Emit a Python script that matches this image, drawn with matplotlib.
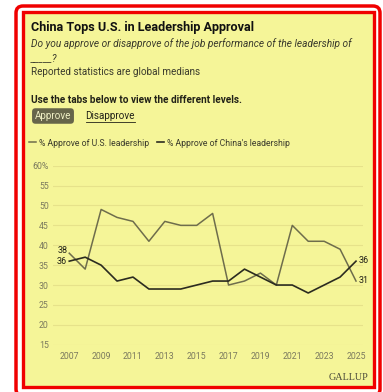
import matplotlib
matplotlib.use("Agg")
import matplotlib.pyplot as plt
from matplotlib.patches import FancyBboxPatch, Rectangle
from matplotlib.lines import Line2D
from matplotlib.transforms import IdentityTransform

# data (global medians, %)
years = list(range(2007, 2026))
us_approve = [38, 34, 49, 47, 46, 41, 46, 45, 45, 48, 30, 31, 33, 30, 45, 41, 41, 39, 31]
china_approve = [36, 37, 35, 31, 32, 29, 29, 29, 30, 31, 31, 34, 32, 30, 30, 28, 30, 32, 36]
xticks = list(range(2007, 2026, 2))
yticks = [15, 20, 25, 30, 35, 40, 45, 50, 55, 60]

W, H = 383, 392
BG = "#f5f598"
RED = "#f00000"
US_C = "#6e6d4c"
CN_C = "#2b2b20"
TXT = "#222218"
GREY = "#7b7a5e"


def fx(px):
    return px / W


def fy(py):
    return 1 - py / H


plt.rcParams["font.family"] = ["Roboto", "DejaVu Sans"]

fig = plt.figure(figsize=(W / 100, H / 100), dpi=100)
fig.patch.set_facecolor("white")

# borders (display pixels, origin bottom-left)
outer = FancyBboxPatch((16, -4), 364, 390, boxstyle="round,pad=0,rounding_size=7",
                       facecolor="none", edgecolor=RED, linewidth=2.5,
                       transform=IdentityTransform(), zorder=-5)
inner = Rectangle((23.3, 392 - 387.3), 350.5, 375.8, facecolor=BG, edgecolor=RED,
                  linewidth=2.4, transform=IdentityTransform(), zorder=-4)
fig.add_artist(outer)
fig.add_artist(inner)

# header text
fig.text(fx(31), fy(27), "China Tops U.S. in Leadership Approval", fontsize=9.1,
         fontweight="bold", color="#111111", va="center", ha="left")
fig.text(fx(31), fy(44), "Do you approve or disapprove of the job performance of the leadership of",
         fontsize=7.3, style="italic", color="#3a3a2c", va="center", ha="left")
fig.text(fx(31), fy(58), "_____?", fontsize=7.3, style="italic", color="#3a3a2c",
         va="center", ha="left")
fig.text(fx(31), fy(72), "Reported statistics are global medians", fontsize=7.1,
         color="#3a3a2c", va="center", ha="left")
fig.text(fx(31), fy(100), "Use the tabs below to view the different levels.", fontsize=7.2,
         fontweight="bold", color=TXT, va="center", ha="left")
fig.text(fx(53), fy(116), "Approve", fontsize=7.1, color="#efefc4", va="center", ha="center",
         bbox=dict(boxstyle="round,pad=0.28,rounding_size=0.35", facecolor="#66654a",
                   edgecolor="none"))
fig.text(fx(85.5), fy(116), "Disapprove", fontsize=7.1, color=TXT, va="center", ha="left")
fig.add_artist(Line2D([fx(85.5), fx(135)], [fy(121.5), fy(121.5)], color=TXT, linewidth=0.6,
                      transform=fig.transFigure))

# chart
x0, x1 = 53, 362.7
y0, y1 = 165.7, 344.7
ax = fig.add_axes([fx(x0), fy(y1), (x1 - x0) / W, (y1 - y0) / H])
ax.patch.set_alpha(0)
ax.plot(years, us_approve, color=US_C, linewidth=1.1, label="% Approve of U.S. leadership")
ax.plot(years, china_approve, color=CN_C, linewidth=1.2, label="% Approve of China's leadership")
ax.set_xlim(2005.98, 2025.42)
ax.set_ylim(15, 60)
ax.set_xticks(xticks)
ax.set_yticks(yticks)
ax.set_yticklabels([str(v) if v != 60 else "60%" for v in yticks])
ax.tick_params(length=0, labelsize=6.3, labelcolor=GREY)
ax.tick_params(axis="y", pad=3)
ax.tick_params(axis="x", pad=5)
ax.grid(axis="y", color="#e6e28a", linewidth=0.8)
ax.grid(axis="x", visible=False)
for s in ax.spines.values():
    s.set_visible(False)

# end labels
ax.annotate(str(us_approve[0]), (years[0], us_approve[0]), xytext=(-1.5, 2), textcoords="offset points",
            ha="right", va="center", fontsize=6.5, color=TXT)
ax.annotate(str(china_approve[0]), (years[0], china_approve[0]), xytext=(-1.5, 0), textcoords="offset points",
            ha="right", va="center", fontsize=6.5, color=TXT)
ax.annotate(str(china_approve[-1]), (years[-1], china_approve[-1]), xytext=(2, 0.5), textcoords="offset points",
            ha="left", va="center", fontsize=6.5, color=TXT)
ax.annotate(str(us_approve[-1]), (years[-1], us_approve[-1]), xytext=(2, 0.5), textcoords="offset points",
            ha="left", va="center", fontsize=6.5, color=TXT)

ax.legend(loc="center left", bbox_to_anchor=(fx(29), fy(143)), bbox_transform=fig.transFigure,
          ncol=2, frameon=False, handlelength=0.8, handletextpad=0.35, columnspacing=0.9,
          borderpad=0, borderaxespad=0, fontsize=6.2, labelcolor="#3a3a2c")

fig.text(fx(368), fy(378), "GALLUP", fontsize=7.3, family="Liberation Serif", color="#4a4a3a",
         ha="right", va="center")

fig.savefig("out.png", dpi=100)
